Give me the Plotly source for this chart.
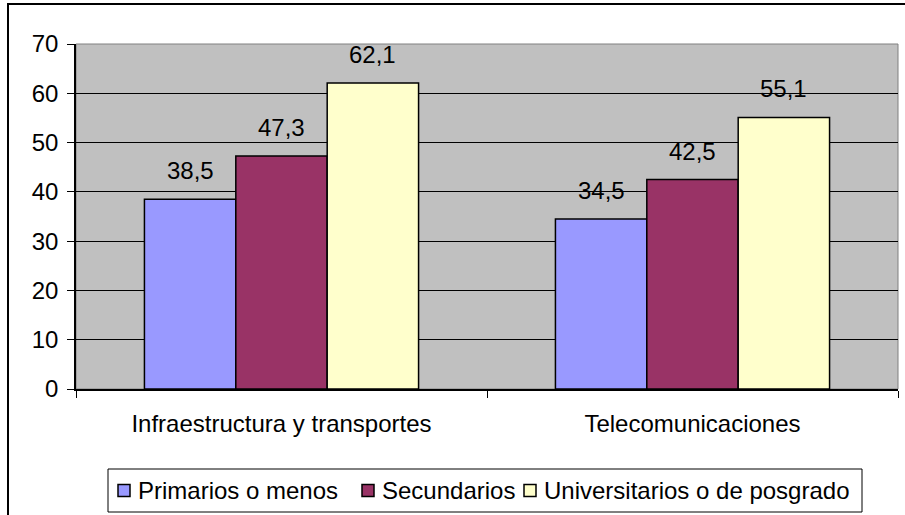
import plotly.graph_objects as go

categories = ["Infraestructura y transportes", "Telecomunicaciones"]
series_names = ["Primarios o menos", "Secundarios", "Universitarios o de posgrado"]
primarios = [38.5, 34.5]
secundarios = [47.3, 42.5]
universitarios = [62.1, 55.1]
series_values = [primarios, secundarios, universitarios]
colors = ["#9999FF", "#993366", "#FFFFCC"]

W, H = 905, 515
ML, MR, MT, MB = 76, 7, 44, 126
plot_w = W - ML - MR
plot_h = H - MT - MB
bargap = 0.333
bar_px = plot_w / len(categories) * (1 - bargap) / len(series_names)

FONT = "Liberation Sans, Arial, sans-serif"
FS = 24

fig = go.Figure()
for name, vals, col in zip(series_names, series_values, colors):
    fig.add_trace(go.Bar(
        name=name, x=categories, y=vals, showlegend=False,
        marker=dict(color=col, line=dict(color="black", width=1.5)),
    ))

def px_x(p):
    return (p - ML) / plot_w

def px_y(p):
    return (H - MB - p) / plot_h

# value labels above each bar, decimal comma
annotations = []
for i, vals in enumerate(series_values):
    offset = (i - 1) * bar_px
    for cat, v in zip(categories, vals):
        annotations.append(dict(
            x=cat, y=v, xref="x", yref="y", text=f"{v:.1f}".replace(".", ","),
            showarrow=False, xanchor="center", yanchor="bottom",
            xshift=offset, yshift=13,
            font=dict(family=FONT, size=FS, color="black"),
        ))

shapes = [
    # plot area frame (top and right edges in grey)
    dict(type="rect", xref="paper", yref="paper", x0=0, x1=1, y0=0, y1=1,
         line=dict(color="#808080", width=1), fillcolor="rgba(0,0,0,0)", layer="below"),
    # outer chart border
    dict(type="line", xref="paper", yref="paper", x0=px_x(8), x1=px_x(8),
         y0=px_y(3), y1=px_y(530), line=dict(color="black", width=2)),
    dict(type="line", xref="paper", yref="paper", x0=px_x(7), x1=px_x(920),
         y0=px_y(4), y1=px_y(4), line=dict(color="black", width=2)),
    # legend box
    dict(type="rect", xref="paper", yref="paper",
         x0=px_x(108), x1=px_x(862), y0=px_y(469), y1=px_y(512),
         line=dict(color="black", width=1), fillcolor="white"),
]

# legend entries: swatch + label
legend_swatch_x = [118, 362, 524]
legend_y = 490.5
for name, col, sx in zip(series_names, colors, legend_swatch_x):
    shapes.append(dict(
        type="rect", xref="paper", yref="paper",
        x0=px_x(sx), x1=px_x(sx + 12), y0=px_y(legend_y - 6), y1=px_y(legend_y + 6),
        line=dict(color="black", width=1.5), fillcolor=col,
    ))
    annotations.append(dict(
        x=px_x(sx + 18), y=px_y(legend_y), xref="paper", yref="paper",
        text=name, showarrow=False, xanchor="left", yanchor="middle",
        font=dict(family=FONT, size=FS, color="black"),
    ))

fig.update_layout(
    width=W, height=H,
    margin=dict(l=ML, r=MR, t=MT, b=MB),
    paper_bgcolor="white", plot_bgcolor="#C0C0C0",
    barmode="group", bargap=bargap, bargroupgap=0,
    font=dict(family=FONT, size=FS, color="black"),
    showlegend=False,
    annotations=annotations,
    shapes=shapes,
)
fig.update_xaxes(
    showline=True, linecolor="black", linewidth=1.5,
    ticks="outside", tickson="boundaries", ticklen=7, tickcolor="black",
    tickfont=dict(family=FONT, size=FS), showgrid=False,
    ticklabelstandoff=12,
)
fig.update_yaxes(
    range=[0, 70], dtick=10, showline=True, linecolor="black", linewidth=1.5,
    ticks="outside", ticklen=7, tickcolor="black",
    showgrid=True, gridcolor="black", gridwidth=1, zeroline=False,
    tickfont=dict(family=FONT, size=FS), ticklabelstandoff=4,
)

fig.write_html("out.html")
